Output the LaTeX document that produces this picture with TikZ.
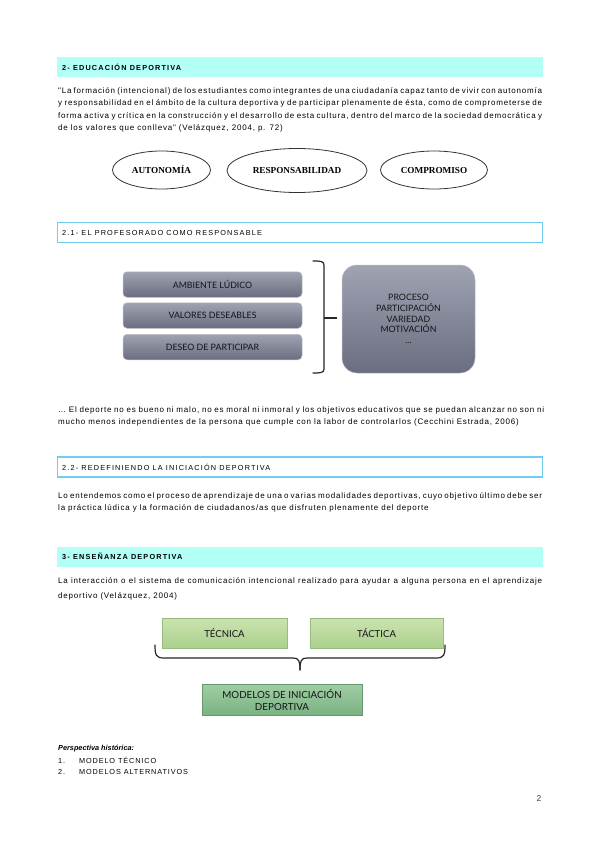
\documentclass[tikz,border=0pt]{standalone}
\usepackage{fontspec}
\setmainfont{Liberation Sans}
\newfontfamily\bodyfont[LetterSpace=10]{Liberation Sans}
\newfontfamily\headfont[LetterSpace=16]{Liberation Sans}
\newfontfamily\listfont[LetterSpace=12]{Liberation Sans}
\newfontfamily\ellfont{Liberation Serif}
\newfontfamily\gillfont{Lato}
\usetikzlibrary{shapes.geometric}
\definecolor{headcyan}{RGB}{178,255,246}
\definecolor{headline}{RGB}{110,205,240}
\definecolor{graytop}{RGB}{160,163,177}
\definecolor{graybot}{RGB}{105,109,128}
\definecolor{greentop}{RGB}{204,227,176}
\definecolor{greenbot}{RGB}{170,208,140}
\definecolor{dgreentop}{RGB}{160,206,164}
\definecolor{dgreenbot}{RGB}{122,178,130}
\definecolor{boxtext}{RGB}{20,20,25}
\tikzset{
  headfill/.style={fill=headcyan, draw=none, minimum width=486pt, minimum height=20pt, inner sep=0pt},
  headframe/.style={fill=white, draw=headline, line width=1.4pt, minimum width=485pt, minimum height=20pt, inner sep=0pt},
  headtext/.style={anchor=west, inner sep=0pt, font=\headfont\fontsize{7.3}{8}\selectfont},
  para/.style={anchor=north west, inner sep=0pt, text width=484pt, align=justify, font=\bodyfont\fontsize{8}{12.3}\selectfont},
  ell/.style={ellipse, draw=black!80, line width=0.8pt, inner sep=0pt, font=\ellfont\bfseries\fontsize{9.2}{10}\selectfont},
  graybox/.style={rounded corners=4pt, top color=graytop, bottom color=graybot, draw=graytop!70!white, line width=0.5pt, minimum width=179pt, minimum height=25.5pt, inner sep=0pt, text=boxtext, font=\gillfont\fontsize{8.8}{10}\selectfont},
  bigbox/.style={rounded corners=15pt, top color=graytop, bottom color=graybot, draw=graytop!70!white, line width=0.5pt, minimum width=133pt, minimum height=108pt, inner sep=0pt, text=boxtext, align=center, font=\gillfont\fontsize{8.8}{10.8}\selectfont},
  greenbox/.style={top color=greentop, bottom color=greenbot, draw=greenbot!90!black, line width=0.4pt, minimum height=30pt, inner sep=0pt, text=boxtext, font=\gillfont\fontsize{9.6}{11}\selectfont},
  dgreenbox/.style={top color=dgreentop, bottom color=dgreenbot, draw=dgreenbot!85!black, line width=0.4pt, minimum width=160pt, minimum height=31pt, inner sep=0pt, text=boxtext, align=center, font=\gillfont\fontsize{9.8}{12}\selectfont},
  bracestyle/.style={draw=black!85, line width=1.2pt, line cap=round, line join=round}
}
\begin{document}
\begin{tikzpicture}[x=1pt,y=-1pt]
\useasboundingbox[fill=white] (0,0) rectangle (599,848);

% ---- 2- EDUCACION DEPORTIVA
\node[headfill] (h1) at (300,67) {};
\node[headtext] (h1t) at (62,67) {\bfseries 2- EDUCACIÓN DEPORTIVA};
\node[para] (p1) at (58,87.5) {"La formación (intencional) de los estudiantes como integrantes de una ciudadanía capaz tanto de vivir con autonomía\linebreak
y responsabilidad en el ámbito de la cultura deportiva y de participar plenamente de ésta, como de comprometerse de\linebreak
forma activa y crítica en la construcción y el desarrollo de esta cultura, dentro del marco de la sociedad democrática y\linebreak
de los valores que conlleva" (Velázquez, 2004, p. 72)};

\node[ell, minimum width=98pt, minimum height=38pt] (e1) at (161.5,170) {AUTONOMÍA};
\node[ell, minimum width=140pt, minimum height=44pt] (e2) at (297,170.5) {RESPONSABILIDAD};
\node[ell, minimum width=107pt, minimum height=38pt] (e3) at (434,170) {COMPROMISO};

% ---- 2.1
\node[headframe] (h2) at (300,232.5) {};
\node[headtext] (h2t) at (62,232.5) {2.1- EL PROFESORADO COMO RESPONSABLE};

\node[graybox] (g1) at (212.5,284.5) {AMBIENTE LÚDICO};
\node[graybox] (g2) at (212.5,315.5) {VALORES DESEABLES};
\node[graybox] (g3) at (212.5,347) {DESEO DE PARTICIPAR};
\node[bigbox] (big) at (408.5,319) {PROCESO\\PARTICIPACIÓN\\VARIEDAD\\MOTIVACIÓN\\...};

\coordinate (bt) at (313,261);
\coordinate (bb) at (313,373);
\coordinate (bm) at (337,318);
\draw[bracestyle] (bt) .. controls (320,261) and (324,261) .. (324,265) -- (324,369) .. controls (324,373) and (320,373) .. (bb);
\draw[draw=black!85, line width=1.6pt] (324,318) -- (bm);

\node[para, text width=486pt] (p2) at (58,406) {… El deporte no es bueno ni malo, no es moral ni inmoral y los objetivos educativos que se puedan alcanzar no son ni\linebreak
mucho menos independientes de la persona que cumple con la labor de controlarlos (Cecchini Estrada, 2006)};

% ---- 2.2
\node[headframe] (h3) at (300,467) {};
\node[headtext] (h3t) at (62,467) {2.2- REDEFINIENDO LA INICIACIÓN DEPORTIVA};
\node[para] (p3) at (58,492) {Lo entendemos como el proceso de aprendizaje de una o varias modalidades deportivas, cuyo objetivo último debe ser\linebreak
la práctica lúdica y la formación de ciudadanos/as que disfruten plenamente del deporte};

% ---- 3
\node[headfill] (h4) at (300,556.5) {};
\node[headtext] (h4t) at (62,556.5) {\bfseries 3- ENSEÑANZA DEPORTIVA};
\node[para, font=\bodyfont\fontsize{8}{15.5}\selectfont] (p4) at (58,577) {La interacción o el sistema de comunicación intencional realizado para ayudar a alguna persona en el aprendizaje\linebreak
deportivo (Velázquez, 2004)};

\node[greenbox, minimum width=125pt] (tec) at (224.5,633) {TÉCNICA};
\node[greenbox, minimum width=133pt] (tac) at (376.5,633) {TÁCTICA};
\node[dgreenbox] (mod) at (282,699.5) {MODELOS DE INICIACIÓN\\DEPORTIVA};

\coordinate (cl) at (155,645);
\coordinate (cr) at (445,645);
\coordinate (cm) at (300,670);
\draw[bracestyle] (cl) .. controls (155,655) and (156,658) .. (164,658) -- (293,658) .. controls (299,658) and (300,661) .. (cm);
\draw[bracestyle] (cm) .. controls (300,661) and (301,658) .. (307,658) -- (436,658) .. controls (444,658) and (445,655) .. (cr);

% ---- Perspectiva
\node[anchor=west, inner sep=0pt, font=\fontsize{7.3}{8}\selectfont\itshape\bfseries] (ph) at (58,749) {Perspectiva histórica:};
\node[anchor=west, inner sep=0pt, font=\listfont\fontsize{7.3}{8}\selectfont] (m1) at (58,760.5) {1.\hspace{14pt}MODELO TÉCNICO};
\node[anchor=west, inner sep=0pt, font=\listfont\fontsize{7.3}{8}\selectfont] (m2) at (58,772) {2.\hspace{14pt}MODELOS ALTERNATIVOS};

\node[inner sep=0pt, font=\fontsize{8.5}{10}\selectfont, text=black!75] (pg) at (539,799) {2};
\end{tikzpicture}
\end{document}
